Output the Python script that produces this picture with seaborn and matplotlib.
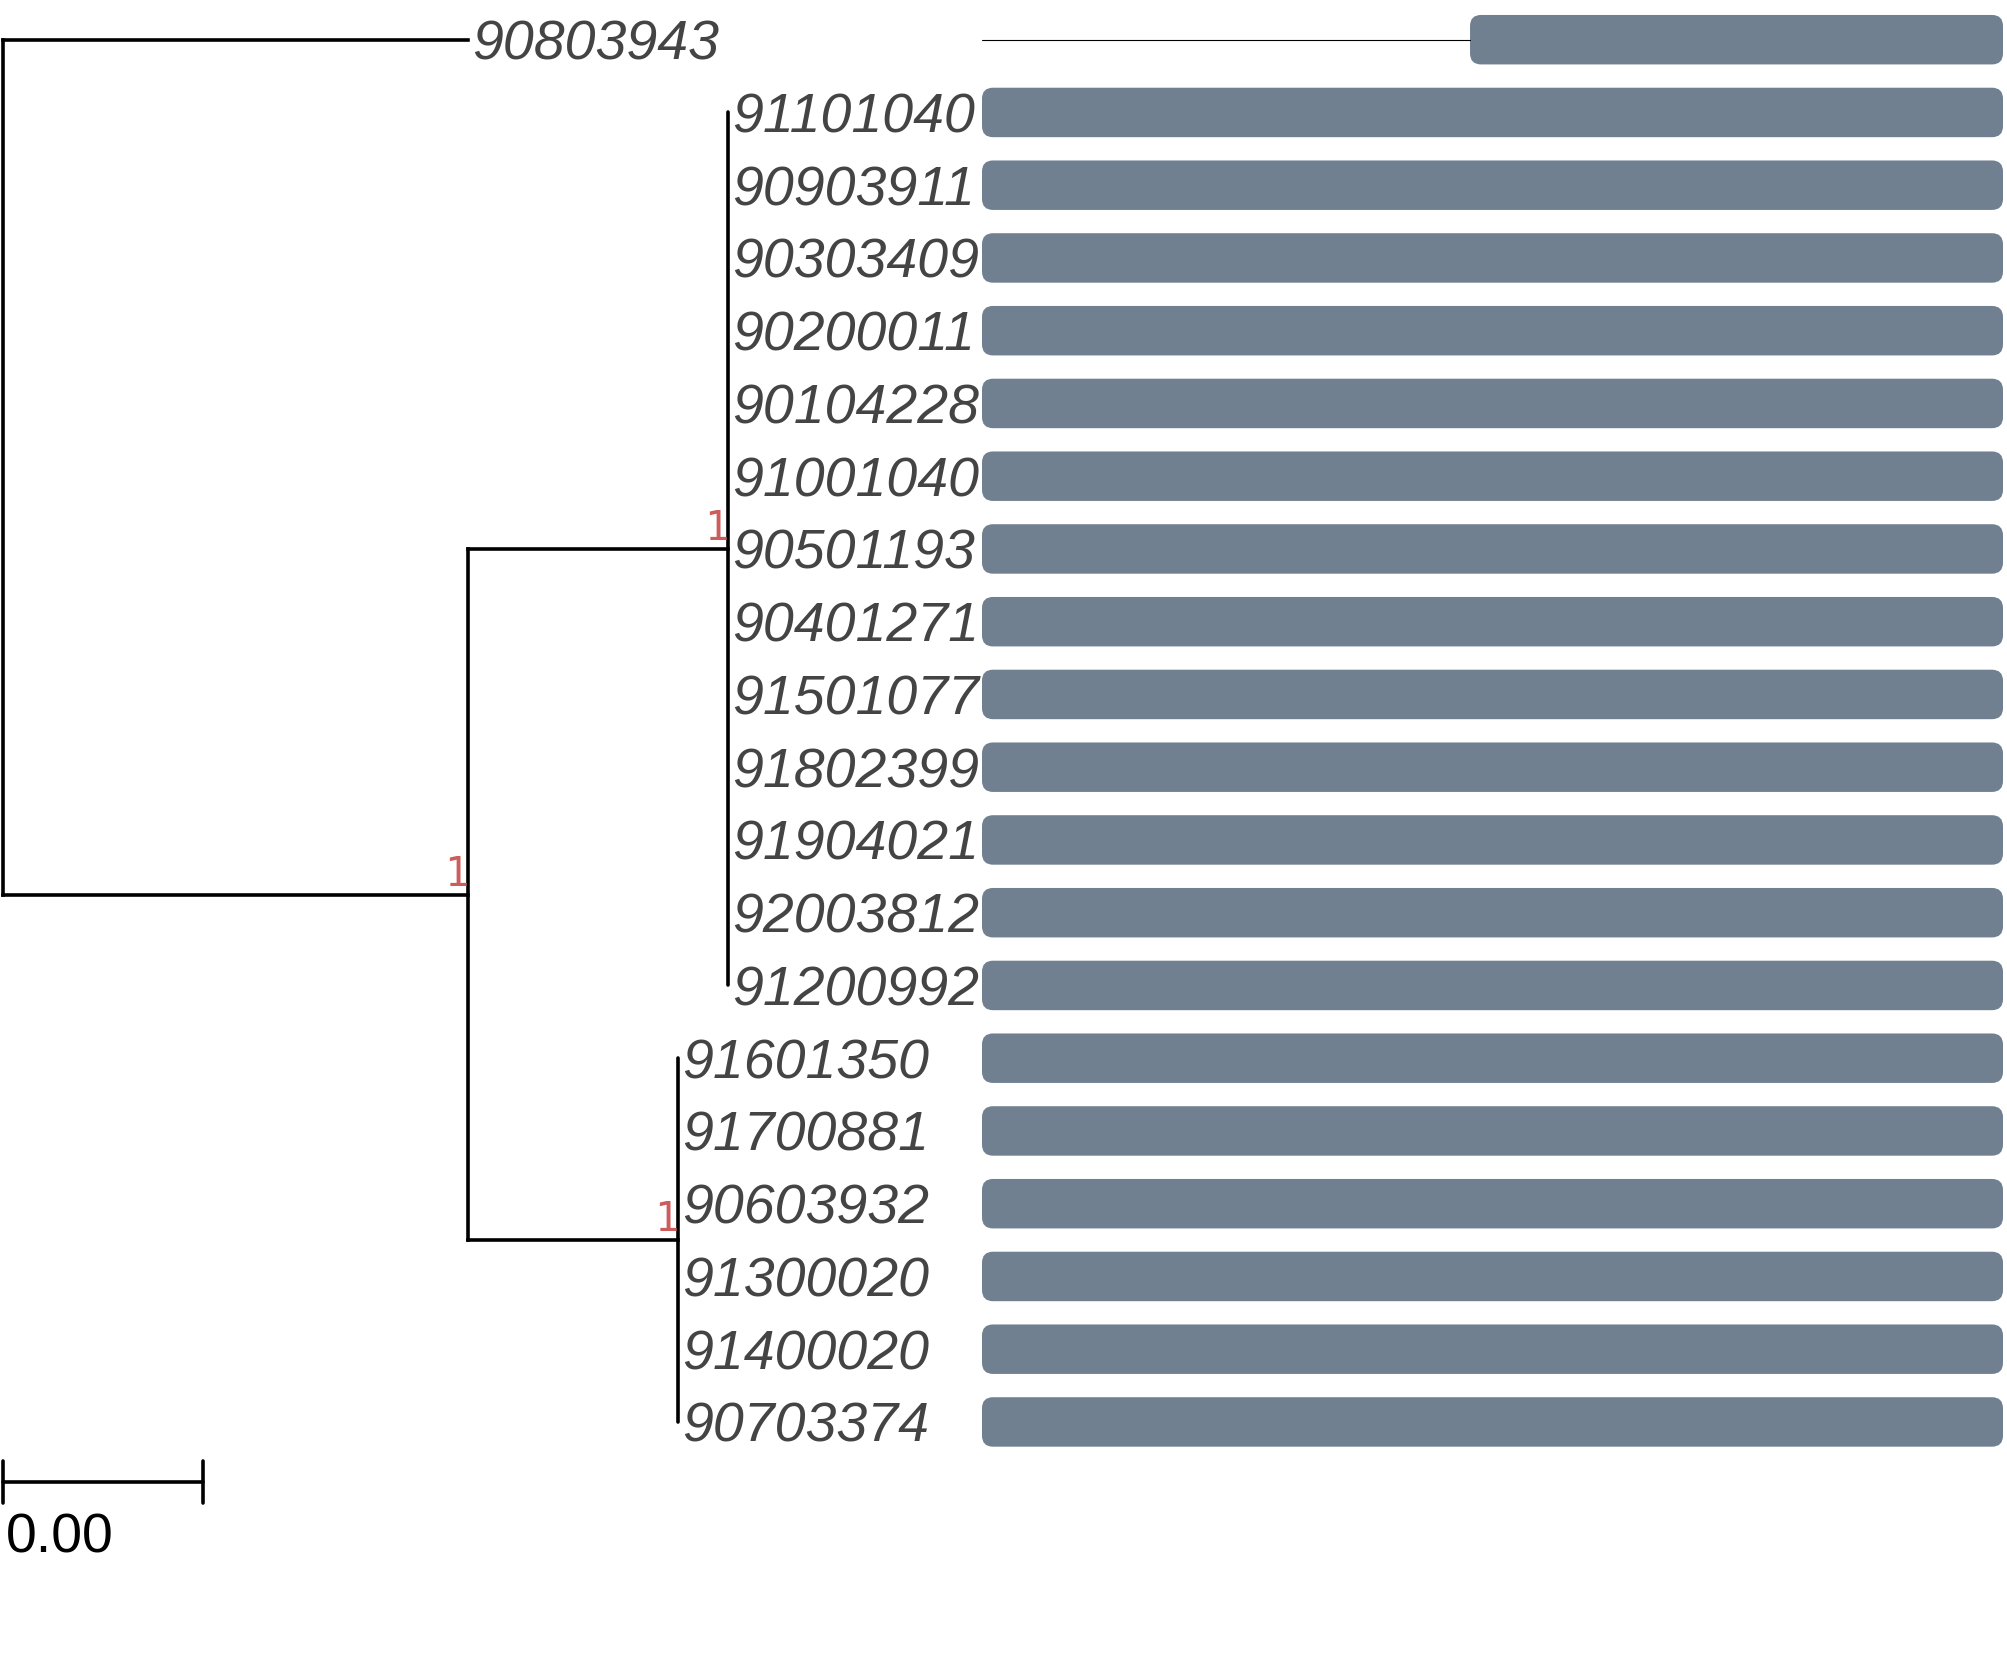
import matplotlib
matplotlib.use("Agg")
import numpy as np
import matplotlib.pyplot as plt
from matplotlib.patches import FancyBboxPatch
import seaborn as sns

# Tip order, top to bottom
tips = ["90803943", "91101040", "90903911", "90303409", "90200011", "90104228",
        "91001040", "90501193", "90401271", "91501077", "91802399", "91904021",
        "92003812", "91200992", "91601350", "91700881", "90603932", "91300020",
        "91400020", "90703374"]
outgroup = tips[0]
clade_a = tips[1:14]
clade_b = tips[14:]

# Node depths from the root (substitutions / site)
outgroup_len = 0.0093
ingroup_depth = 0.0093
clade_a_depth = 0.0145
clade_b_depth = 0.0135
support_ingroup = 1
support_a = 1
support_b = 1
scale_len = 0.004

# Coverage bars (fraction of alignment)
bar_start = [0.478] + [0.0] * 19
bar_end = [1.0] * 20

# figure geometry (pixels)
W, H = 2007, 1664
row_px = 72.75
top_px = 39.7
px_per_unit = 50000
root_px = 3
bar_left_px, bar_right_px = 982, 2003

sns.set_theme(style="white")
plt.rcParams["font.family"] = ["Liberation Sans", "DejaVu Sans"]

fig = plt.figure(figsize=(W / 100, H / 100), dpi=100)
ax = fig.add_axes([0, 0, 1, 1])
ax.set_xlim(-root_px / px_per_unit, (W - root_px) / px_per_unit)
ylim = ((H - top_px) / row_px, -top_px / row_px)
ax.set_ylim(*ylim)
ax.axis("off")

row = {t: i for i, t in enumerate(tips)}
ya = np.mean([row[t] for t in clade_a])
yb = np.mean([row[t] for t in clade_b])
yin = (ya + yb) / 2

lw = 2.6
kw = dict(color="black", lw=lw, solid_capstyle="projecting")
# root
ax.plot([0, 0], [row[outgroup], yin], **kw)
ax.plot([0, outgroup_len], [row[outgroup]] * 2, **kw)
ax.plot([0, ingroup_depth], [yin, yin], **kw)
# ingroup node
ax.plot([ingroup_depth] * 2, [ya, yb], **kw)
ax.plot([ingroup_depth, clade_a_depth], [ya, ya], **kw)
ax.plot([ingroup_depth, clade_b_depth], [yb, yb], **kw)
# clades
ax.plot([clade_a_depth] * 2, [row[clade_a[0]], row[clade_a[-1]]], color="black", lw=lw)
ax.plot([clade_b_depth] * 2, [row[clade_b[0]], row[clade_b[-1]]], color="black", lw=lw)

# support values
for x, y, s in [(ingroup_depth, yin, support_ingroup),
                (clade_a_depth, ya, support_a),
                (clade_b_depth, yb, support_b)]:
    ax.text(x, y, str(s), ha="right", va="bottom", color="indianred",
            family="DejaVu Sans Mono", fontsize=29)

# tip labels
tip_x = {outgroup: outgroup_len}
tip_x.update({t: clade_a_depth for t in clade_a})
tip_x.update({t: clade_b_depth for t in clade_b})
for t in tips:
    ax.annotate(t, (tip_x[t], row[t]), xytext=(3, 0), textcoords="offset points",
                ha="left", va="center_baseline", fontstyle="italic",
                fontsize=40, color="#444444")

# scale bar
sy = (1482 - top_px) / row_px
ax.plot([0, scale_len], [sy, sy], color="black", lw=lw)
for x in [0, scale_len]:
    ax.plot([x, x], [sy - 0.29, sy + 0.29], color="black", lw=lw)
ax.text(0.00005, sy + 0.42, f"{scale_len:.2f}", ha="left", va="top",
        fontsize=40, color="black")

# bar panel
bax = fig.add_axes([bar_left_px / W, 0, (bar_right_px - bar_left_px) / W, 1])
bax.patch.set_alpha(0)
lengths = [e - s for s, e in zip(bar_start, bar_end)]
sns.barplot(x=lengths, y=list(range(len(tips))), orient="h", native_scale=True,
            color="slategray", saturation=1, width=0.68, ax=bax)
bax.set_xlim(0, 1)
bax.set_ylim(*ylim)
bax.axis("off")

bw_px = bar_right_px - bar_left_px
aspect = bw_px / row_px
r = 11 / bw_px
for p in list(bax.patches):
    y, w, h = p.get_y(), p.get_width(), p.get_height()
    i = int(round(y + h / 2))
    p.remove()
    bax.add_patch(FancyBboxPatch((bar_start[i], y), w, h,
                                 boxstyle=f"round,pad=0,rounding_size={r}",
                                 mutation_aspect=aspect, facecolor="slategray",
                                 edgecolor="none"))
    if bar_start[i] > 0:
        bax.plot([0, bar_start[i]], [i, i], color="black", lw=0.8)

fig.savefig("out.png", dpi=100)
